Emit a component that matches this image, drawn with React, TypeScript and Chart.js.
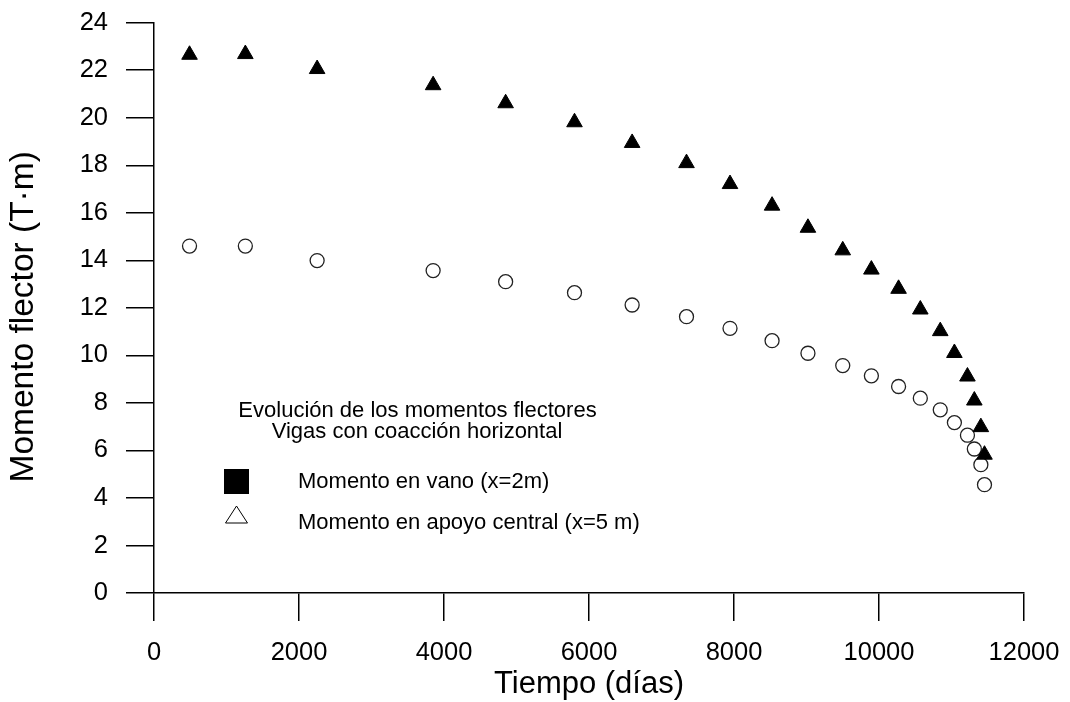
import React, { useEffect, useRef } from "react";
import { Chart, registerables } from "chart.js";

Chart.register(...registerables);

const days = [490, 1260, 2250, 3850, 4850, 5800, 6595, 7345, 7945, 8525, 9020, 9500, 9895, 10270, 10570, 10845, 11040, 11220, 11315, 11405, 11455];
const momentoVano = [22.65, 22.68, 22.05, 21.37, 20.61, 19.81, 18.94, 18.09, 17.21, 16.3, 15.37, 14.42, 13.61, 12.8, 11.93, 11.02, 10.1, 9.11, 8.1, 6.98, 5.82];
const momentoApoyo = [14.6, 14.6, 13.99, 13.57, 13.1, 12.64, 12.12, 11.63, 11.14, 10.62, 10.09, 9.57, 9.14, 8.69, 8.2, 7.71, 7.17, 6.64, 6.06, 5.4, 4.56];

const seriesLabels = ["Momento en vano (x=2m)", "Momento en apoyo central (x=5 m)"];
const legendTitle = ["Evolución de los momentos flectores", "Vigas con coacción horizontal"];
const xTitle = "Tiempo (días)";
const yTitle = "Momento flector (T·m)";

const FONT = "Arial, 'Liberation Sans', sans-serif";

const overlayPlugin = {
  id: "overlay",
  afterDraw(chart: any) {
    const ctx = chart.ctx as CanvasRenderingContext2D;
    const area = chart.chartArea;
    ctx.save();
    ctx.fillStyle = "#000";
    // y axis title
    ctx.save();
    ctx.translate(16, (area.top + area.bottom) / 2 + 9);
    ctx.rotate(-Math.PI / 2);
    ctx.font = `33.5px ${FONT}`;
    ctx.textAlign = "center";
    ctx.textBaseline = "middle";
    ctx.fillText(yTitle, 0, 0);
    ctx.restore();

    // legend block
    ctx.font = `22px ${FONT}`;
    ctx.textAlign = "center";
    ctx.textBaseline = "middle";
    ctx.fillText(legendTitle[0], 409.5, 403);
    ctx.fillText(legendTitle[1], 409, 424);

    // filled square
    ctx.fillRect(216, 461, 25, 25);
    ctx.textAlign = "left";
    ctx.fillText(seriesLabels[0], 290, 473.5);

    // open triangle
    ctx.beginPath();
    ctx.moveTo(228.5, 498);
    ctx.lineTo(239.5, 515);
    ctx.lineTo(217.5, 515);
    ctx.closePath();
    ctx.strokeStyle = "#000";
    ctx.lineWidth = 1;
    ctx.stroke();
    ctx.fillText(seriesLabels[1], 290, 514.5);
    ctx.restore();
  },
};

const zeroPad = (s: any) => {
  s.paddingTop = 0;
  s.paddingBottom = 0;
  s.paddingLeft = 0;
  s.paddingRight = 0;
};

export default function App() {
  const ref = useRef<HTMLCanvasElement | null>(null);
  useEffect(() => {
    document.documentElement.style.overflow = "hidden";
    if (!ref.current) return;
    const chart = new Chart(ref.current, {
      type: "scatter",
      data: {
        datasets: [
          {
            label: seriesLabels[0],
            data: days.map((d, i) => ({ x: d, y: momentoVano[i] })),
            pointStyle: "triangle",
            pointRadius: 9,
            backgroundColor: "#000",
            borderColor: "#000",
            borderWidth: 1,
          },
          {
            label: seriesLabels[1],
            data: days.map((d, i) => ({ x: d, y: momentoApoyo[i] })),
            pointStyle: "circle",
            pointRadius: 7,
            backgroundColor: "#fff",
            borderColor: "#222",
            borderWidth: 1.3,
          },
        ],
      },
      options: {
        responsive: false,
        animation: false,
        layout: { padding: { top: 14.7, right: 38, left: 0, bottom: 0 } },
        plugins: { legend: { display: false }, tooltip: { enabled: false } },
        scales: {
          x: {
            type: "linear",
            min: 0,
            max: 12000,
            afterFit: (s: any) => {
              s.height = 109;
              zeroPad(s);
            },
            ticks: {
              stepSize: 2000,
              color: "#000",
              padding: 17,
              maxRotation: 0,
              font: { family: FONT, size: 25.5 },
              callback: (v: any) => String(v),
            },
            grid: {
              display: true,
              drawOnChartArea: false,
              drawTicks: true,
              tickLength: 28,
              color: "#000",
              lineWidth: 1.5,
            },
            border: { display: true, color: "#000", width: 1.5 },
            title: {
              display: true,
              text: xTitle,
              color: "#000",
              padding: { top: 0, bottom: 2.5 },
              font: { family: FONT, size: 31, lineHeight: 1 },
            },
          },
          y: {
            type: "linear",
            min: 0,
            max: 24,
            afterFit: (s: any) => {
              s.width = 146;
              zeroPad(s);
            },
            ticks: {
              stepSize: 2,
              color: "#000",
              padding: 18,
              font: { family: FONT, size: 25.5, lineHeight: 1.1 },
              callback: (v: any) => String(v),
            },
            grid: {
              display: true,
              drawOnChartArea: false,
              drawTicks: true,
              tickLength: 28,
              color: "#000",
              lineWidth: 1.5,
            },
            border: { display: true, color: "#000", width: 1.5 },
          },
        },
      },
      plugins: [overlayPlugin],
    });
    return () => chart.destroy();
  }, []);
  return (
    <div style={{ width: 1054, height: 694 }}>
      <canvas ref={ref} width={1054} height={694} style={{ display: "block" }} />
    </div>
  );
}
